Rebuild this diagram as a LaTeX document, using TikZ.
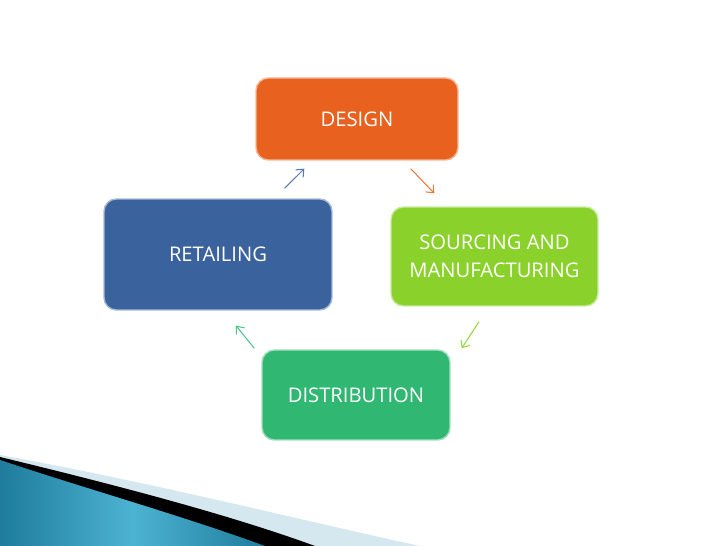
\documentclass[tikz,border=0pt]{standalone}
\usepackage{fontspec}
\setmainfont{Open Sans}
\usetikzlibrary{arrows.meta,calc}
\definecolor{designColor}{HTML}{E9611E}
\definecolor{sourceColor}{HTML}{8AD12B}
\definecolor{retailColor}{HTML}{3A629C}
\definecolor{distColor}{HTML}{30B873}
\definecolor{swooshDark}{HTML}{136E8E}
\definecolor{swooshMid}{HTML}{4DB3D3}
\definecolor{swooshLight}{HTML}{D5E8F0}
\colorlet{arrowBlue}{retailColor!85!white}
\colorlet{arrowOrange}{designColor!85!white}
\colorlet{arrowGreen}{sourceColor!90!white}
\colorlet{arrowTeal}{distColor!85!white}
\pgfdeclarehorizontalshading{swooshShade}{100bp}{color(0bp)=(swooshDark); color(22bp)=(swooshDark!90!swooshMid); color(50bp)=(swooshMid); color(72bp)=(swooshDark!70!swooshMid); color(100bp)=(swooshDark)}
\tikzset{>={Straight Barb[length=3.5pt,width=6pt]},
  stepBox/.style={fill=#1,draw=#1!45!white,line width=.8pt,text=white,
    rounded corners=7pt,align=center,
    font=\fontsize{11.5}{16}\selectfont},
  link/.style={->,#1,line width=.6pt}}

\begin{document}
\begin{tikzpicture}[x=.02cm,y=-.02cm]
    \useasboundingbox (0,0) rectangle (728,546);

    % swoosh, bottom left
    \fill[swooshLight] (0,455) .. controls (150,482) and (300,520) .. (420,546) -- (0,546) -- cycle;
    \fill[black] (0,457) .. controls (120,486) and (230,515) .. (315,546) -- (0,546) -- cycle;
    \shade[shading=swooshShade]
      (0,460) .. controls (90,490) and (180,515) .. (265,546) -- (0,546) -- cycle;

    \node[stepBox=designColor,minimum width=4.04cm,minimum height=1.64cm] (design) at (357,119) {DESIGN};
    \node[stepBox=sourceColor,minimum width=4.14cm,minimum height=1.98cm] (sourcing) at (494.5,256.5) {SOURCING AND\\MANUFACTURING};
    \node[stepBox=retailColor,minimum width=4.56cm,minimum height=2.22cm] (retailing) at (218,254.5) {RETAILING};
    \node[stepBox=distColor,minimum width=3.76cm,minimum height=1.8cm] (distribution) at (356,395) {DISTRIBUTION};

    \draw[link=arrowBlue] ($(retailing.north east)+(-48,-10)$) -- ($(design.south west)+(49,8)$);
    \draw[link=arrowOrange] ($(design.south east)+(-48,8)$) -- ($(sourcing.north west)+(44,-13)$);
    \draw[link=arrowGreen] ($(sourcing.south)+(-15.5,15)$) -- ($(distribution.north east)+(11,-1)$);
    \draw[link=arrowTeal] ($(distribution.north west)+(-7,-1)$) -- ($(retailing.south)+(18,15)$);
\end{tikzpicture}
\end{document}
